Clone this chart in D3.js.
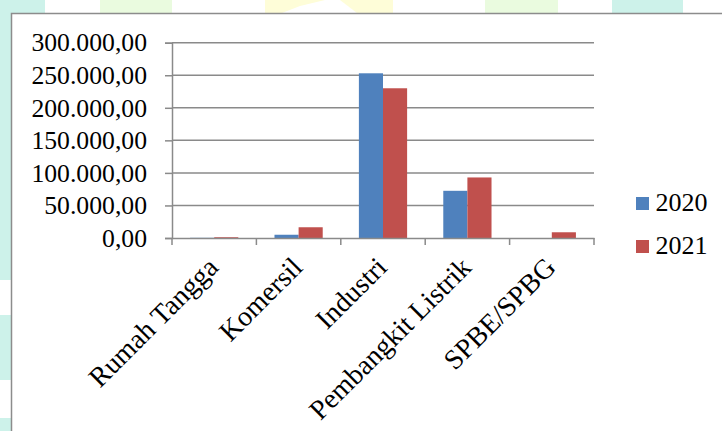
<!DOCTYPE html>
<html>
<head>
<meta charset="utf-8">
<script src="https://cdn.jsdelivr.net/npm/d3@7/dist/d3.min.js"></script>
<style>
  html, body { margin: 0; padding: 0; background: #ffffff; }
  svg { display: block; }
  text { font-family: "Liberation Serif", "Times New Roman", serif; fill: #000; }
</style>
</head>
<body>
<svg id="chart" width="722" height="431"></svg>
<script>
const categories = ["Rumah Tangga", "Komersil", "Industri", "Pembangkit Listrik", "SPBE/SPBG"];
const seriesNames = ["2020", "2021"];
const values2020 = [300, 5000, 253000, 72500, 0];
const values2021 = [1200, 16500, 230000, 93000, 8800];
const yTicks = [0, 50000, 100000, 150000, 200000, 250000, 300000];
const colors = ["#4F81BD", "#C0504D"];

const svg = d3.select("#chart");

// decorative page background (outside chart frame)
const bg = svg.append("g");
const bgRects = [
  [0, 0, 45, 13, "#cdf2ea"], [100, 0, 72, 13, "#eafbdf"], [265, 0, 128, 13, "#fefdd8"],
  [485, 0, 73, 13, "#eafbdf"], [612, 0, 71, 13, "#cdf2ea"],
  [0, 0, 11, 280, "#cdf2ea"], [0, 315, 11, 65, "#cdf2ea"], [0, 418, 11, 13, "#cdf2ea"]
];
bgRects.forEach(r => bg.append("rect").attr("x", r[0]).attr("y", r[1]).attr("width", r[2]).attr("height", r[3]).attr("fill", r[4]));
bg.append("polygon").attr("points", "282,13 300,6 325,0 340,0 357,13").attr("fill", "#ffffff");

// chart frame
svg.append("rect").attr("x", 11.5).attr("y", 13.5).attr("width", 720).attr("height", 430)
  .attr("fill", "#ffffff").attr("stroke", "#8c8c8c").attr("stroke-width", 1.5);

const plotLeft = 172, plotRight = 594, plotTop = 42.7, plotBottom = 238;

const x = d3.scaleBand().domain(categories).range([plotLeft, plotRight]).padding(0);
const xs = d3.scaleBand().domain(seriesNames).range([0, x.bandwidth()]).paddingInner(0).paddingOuter(0.75);
const y = d3.scaleLinear().domain([0, 300000]).range([plotBottom, plotTop]);

const loc = d3.formatLocale({ decimal: ",", thousands: ".", grouping: [3], currency: ["", ""] });
const fmt = loc.format(",.2f");

// gridlines
svg.append("g").selectAll("line").data(yTicks.filter(d => d > 0)).join("line")
  .attr("x1", plotLeft).attr("x2", plotRight)
  .attr("y1", d => y(d)).attr("y2", d => y(d))
  .attr("stroke", "#8a8a8a").attr("stroke-width", 1.5);

// bars
const series = [values2020, values2021];
const gBars = svg.append("g");
series.forEach((vals, si) => {
  gBars.selectAll(null).data(categories).join("rect")
    .attr("x", c => x(c) + xs(seriesNames[si]))
    .attr("width", xs.bandwidth())
    .attr("y", (c, i) => y(vals[i]))
    .attr("height", (c, i) => y(0) - y(vals[i]))
    .attr("fill", colors[si]);
});

// y axis
const yAxis = svg.append("g").attr("transform", `translate(${plotLeft},0)`)
  .call(d3.axisLeft(y).tickValues(yTicks).tickFormat(fmt).tickSize(7).tickPadding(18));
yAxis.select(".domain").attr("stroke", "#8a8a8a").attr("stroke-width", 1.5);
yAxis.selectAll(".tick line").attr("stroke", "#8a8a8a").attr("stroke-width", 1.5);
yAxis.selectAll("text").style("font-size", "25.7px").style("font-family", "Liberation Serif").attr("fill", "#000");

// x axis
const xAxis = svg.append("g").attr("transform", `translate(0,${plotBottom})`)
  .call(d3.axisBottom(x).tickValues([]).tickSizeOuter(0));
xAxis.select(".domain").attr("stroke", "#8a8a8a").attr("stroke-width", 1.5);
const tickPos = categories.map(c => x(c)).concat([x(categories[categories.length - 1]) + x.bandwidth()]);
xAxis.selectAll(".cat-tick").data(tickPos).join("line")
  .attr("x1", d => d).attr("x2", d => d).attr("y1", 0).attr("y2", 7)
  .attr("stroke", "#8a8a8a").attr("stroke-width", 1.5);

// category labels
svg.append("g").selectAll("text").data(categories).join("text")
  .attr("transform", c => `translate(${x(c) + x.bandwidth() / 2 + 5.5},269) rotate(-45)`)
  .attr("text-anchor", "end")
  .style("font-size", "28px")
  .text(c => c);

// legend
const lg = svg.append("g");
seriesNames.forEach((s, i) => {
  lg.append("rect").attr("x", 636).attr("y", 197 + i * 43).attr("width", 13).attr("height", 13).attr("fill", colors[i]);
  lg.append("text").attr("x", 655.5).attr("y", 211 + i * 43).style("font-size", "26px").text(s);
});
</script>
</body>
</html>
